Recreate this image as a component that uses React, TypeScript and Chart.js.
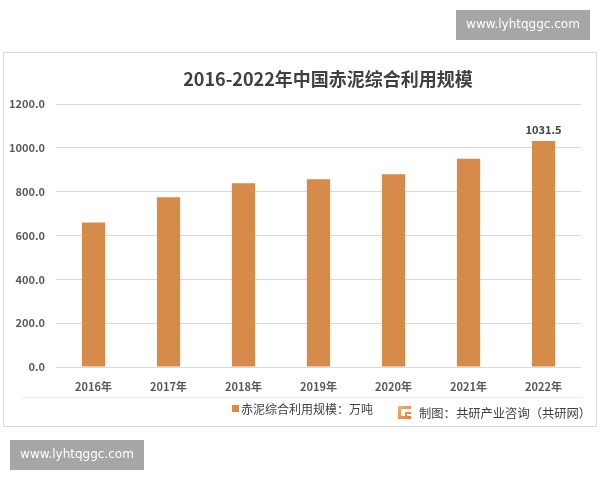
import React, { useEffect, useRef } from "react";
import { Chart, registerables } from "chart.js";

Chart.register(...registerables);

const categories = ["2016年", "2017年", "2018年", "2019年", "2020年", "2021年", "2022年"];
const values = [659, 775, 838, 857, 880, 950, 1031.5];
const labeledIndex = [6];
const titleText = "2016-2022年中国赤泥综合利用规模";
const legendText = "赤泥综合利用规模：万吨";
const sourceText = "制图：共研产业咨询（共研网）";
const watermarkText = "www.lyhtqggc.com";

const FONT = "'Noto Sans CJK SC', 'Noto Sans', sans-serif";
const BAR = "#D78B4A";

const decor = {
  id: "decor",
  beforeDraw(chart: any) {
    const ctx = chart.ctx;
    ctx.save();
    ctx.fillStyle = "#ffffff";
    ctx.fillRect(0, 0, chart.width, chart.height);
    // frame
    ctx.strokeStyle = "#D9D9D9";
    ctx.lineWidth = 1;
    ctx.strokeRect(3.5, 52.5, 593, 374);
    // title
    ctx.fillStyle = "#404040";
    ctx.font = `bold 18px ${FONT}`;
    ctx.textAlign = "center";
    ctx.textBaseline = "middle";
    ctx.fillText(titleText, 328, 79);
    // separator line under x labels
    ctx.strokeStyle = "#EBEBEB";
    ctx.beginPath();
    ctx.moveTo(22, 397.5);
    ctx.lineTo(582, 397.5);
    ctx.stroke();
    ctx.restore();
  },
  afterDraw(chart: any) {
    const ctx = chart.ctx;
    ctx.save();
    // data label
    const meta = chart.getDatasetMeta(0);
    ctx.fillStyle = "#404040";
    ctx.font = `bold 11px ${FONT}`;
    ctx.textAlign = "center";
    ctx.textBaseline = "bottom";
    labeledIndex.forEach((i) => {
      const el = meta.data[i];
      ctx.fillText(String(values[i]), el.x, el.y - 6);
    });
    // legend
    ctx.fillStyle = BAR;
    ctx.fillRect(232, 405, 7, 7);
    ctx.fillStyle = "#404040";
    ctx.font = `12px ${FONT}`;
    ctx.textAlign = "left";
    ctx.textBaseline = "middle";
    ctx.fillText(legendText, 241, 409);
    // source logo
    const g = ctx.createLinearGradient(398, 406, 411, 419);
    g.addColorStop(0, "#F5B070");
    g.addColorStop(1, "#E97A3A");
    ctx.fillStyle = g;
    ctx.fillRect(398, 406, 13, 13);
    ctx.fillStyle = "#ffffff";
    ctx.fillRect(401, 409, 10, 3);
    ctx.fillRect(401, 412, 4, 4);
    ctx.fillRect(407, 414, 4, 2);
    ctx.fillStyle = "#404040";
    ctx.font = `12.3px ${FONT}`;
    ctx.fillText(sourceText, 419, 413);
    // watermarks
    const wm = (x: number, y: number) => {
      ctx.fillStyle = "#A6A6A6";
      ctx.fillRect(x, y, 134, 30);
      ctx.fillStyle = "#ffffff";
      ctx.font = `12px 'DejaVu Sans', sans-serif`;
      ctx.textAlign = "center";
      ctx.textBaseline = "middle";
      ctx.fillText(watermarkText, x + 67, y + 15);
    };
    wm(456, 10);
    wm(10, 440);
    ctx.restore();
  },
};

export default function App() {
  const ref = useRef<HTMLCanvasElement>(null);
  useEffect(() => {
    if (!ref.current) return;
    const chart = new Chart(ref.current, {
      type: "bar",
      data: {
        labels: categories,
        datasets: [
          {
            label: "赤泥综合利用规模",
            data: values,
            backgroundColor: BAR,
            categoryPercentage: 1,
            barPercentage: 0.31,
          },
        ],
      },
      options: {
        responsive: false,
        animation: false,
        layout: { padding: { top: 104, right: 19, bottom: 83, left: 0 } },
        plugins: {
          legend: { display: false },
          title: { display: false },
          tooltip: { enabled: false },
        },
        scales: {
          x: {
            grid: { display: false },
            border: { display: false },
            ticks: {
              color: "#595959",
              font: { family: FONT, size: 11, weight: "bold" },
              padding: 5,
              maxRotation: 0,
            },
            afterFit: (s: any) => {
              s.height = 30;
            },
          },
          y: {
            min: 0,
            max: 1200,
            border: { display: false },
            grid: { color: "#D9D9D9", drawTicks: false },
            ticks: {
              stepSize: 200,
              color: "#595959",
              font: { family: FONT, size: 11, weight: "bold" },
              padding: 11,
              callback: (v: any) => Number(v).toFixed(1),
            },
            afterFit: (s: any) => {
              s.width = 56;
            },
          },
        },
      },
      plugins: [decor],
    });
    return () => chart.destroy();
  }, []);
  return (
    <div style={{ position: "fixed", left: 0, top: 0, width: 600, height: 480, background: "#fff" }}>
      <canvas ref={ref} width={600} height={480} style={{ display: "block" }} />
    </div>
  );
}
